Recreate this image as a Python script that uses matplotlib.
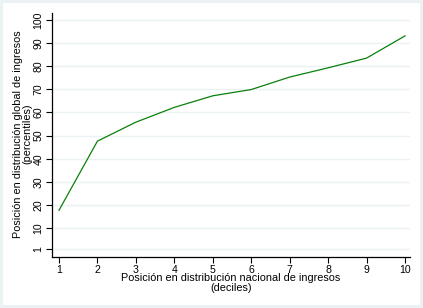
import matplotlib
matplotlib.use("Agg")
import matplotlib.pyplot as plt

# Datos: posicion nacional (deciles) vs posicion global (percentiles)
deciles = [1, 2, 3, 4, 5, 6, 7, 8, 9, 10]
percentiles = [17.7, 47.6, 55.8, 62.2, 67.2, 69.9, 75.3, 79.3, 83.5, 93.1]
yticks = [1, 10, 20, 30, 40, 50, 60, 70, 80, 90, 100]

plt.rcParams['font.family'] = ['Liberation Sans', 'DejaVu Sans']

fig = plt.figure(figsize=(4.23, 3.08), dpi=100)
fig.patch.set_facecolor('white')
fig.patch.set_edgecolor('#eaf2f3')
fig.patch.set_linewidth(4)

ax = fig.add_axes([52 / 423, 1 - 257 / 308, (410 - 52) / 423, (257 - 13) / 308])
ax.plot(deciles, percentiles, color='#0a800a', linewidth=0.9)

ax.set_xlim(0.818, 10.13)
ax.set_ylim(-2.5, 103)
ax.set_xticks(deciles)
ax.set_yticks(yticks)
ax.set_yticklabels([str(v) for v in yticks], rotation=90, va='center')
ax.tick_params(labelsize=7.6, length=4, width=0.8, color='black', pad=2)
ax.grid(axis='y', color='#eaf2f3', linewidth=1)
ax.set_axisbelow(True)
for s in ['top', 'right']:
    ax.spines[s].set_visible(False)
for s in ['left', 'bottom']:
    ax.spines[s].set_linewidth(0.9)

fig.text(231 / 423, 1 - 283 / 308, "Posición en distribución nacional de ingresos\n(deciles)",
         ha='center', va='center', fontsize=7.8, linespacing=0.95)
fig.text(23 / 423, 1 - 134 / 308, "Posición en distribución global de ingresos\n(percentiles)",
         ha='center', va='center', rotation=90, fontsize=7.8, linespacing=0.95)

fig.savefig("out.png", dpi=100, facecolor=fig.get_facecolor(), edgecolor=fig.get_edgecolor())
